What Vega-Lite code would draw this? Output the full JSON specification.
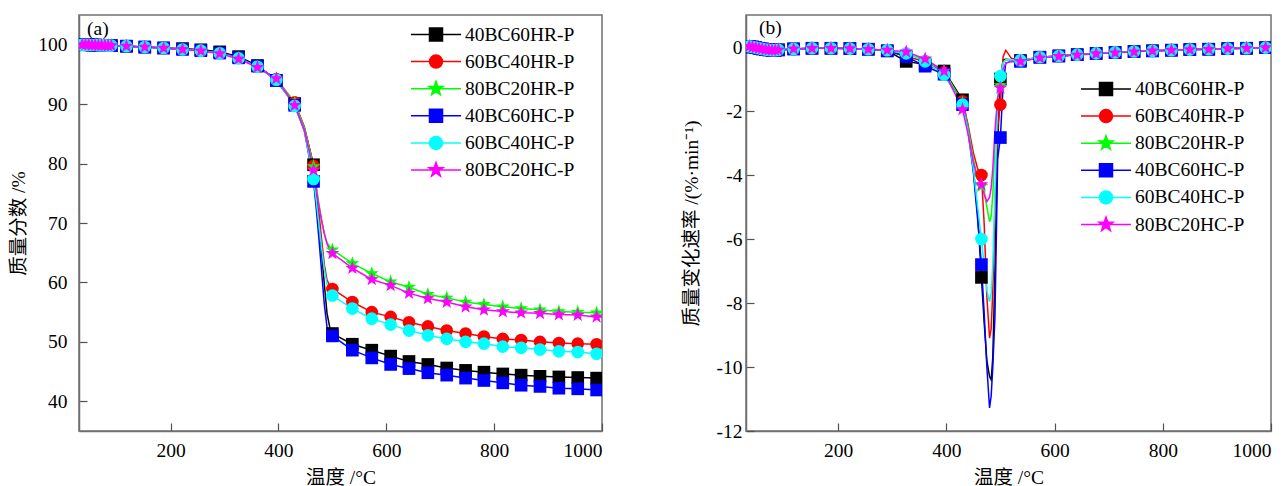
{
  "$schema": "https://vega.github.io/schema/vega-lite/v6.json",
  "background": "white",
  "padding": {"left": 8, "top": 14, "right": 10, "bottom": 4},
  "spacing": 144,
  "bounds": "flush",
  "resolve": {"scale": {"color": "independent"}, "legend": {"color": "independent"}},
  "config": {
    "font": "Liberation Serif, Noto Sans CJK SC",
    "view": {"stroke": "#707070", "strokeWidth": 1.5},
    "axis": {"grid": false, "domainColor": "#707070", "domainWidth": 1.5, "tickColor": "#505050", "tickWidth": 1.2, "tickSize": -8, "labelFont": "Liberation Serif", "labelFontSize": 19.5, "labelColor": "#000000", "titleFont": "Liberation Serif, Noto Sans CJK SC", "titleFontSize": 19.5, "titleFontWeight": "normal", "titleColor": "#000000"},
    "legend": {"labelFont": "Liberation Serif", "labelFontSize": 19.5, "labelColor": "#000000"}
  },
  "datasets": {
    "tg": [
      {"T":30,"m":0,"40BC60HR-P":100.05,"60BC40HR-P":100.05,"80BC20HR-P":100.05,"40BC60HC-P":100.05,"60BC40HC-P":100.05,"80BC20HC-P":100.05},
      {"T":36,"m":1,"40BC60HR-P":100.0,"60BC40HR-P":100.0,"80BC20HR-P":100.0,"40BC60HC-P":100.0,"60BC40HC-P":100.0,"80BC20HC-P":100.0},
      {"T":42,"m":1,"40BC60HR-P":100.0,"60BC40HR-P":100.0,"80BC20HR-P":100.0,"40BC60HC-P":100.0,"60BC40HC-P":100.0,"80BC20HC-P":100.0},
      {"T":48,"m":1,"40BC60HR-P":100.0,"60BC40HR-P":100.0,"80BC20HR-P":100.0,"40BC60HC-P":100.0,"60BC40HC-P":100.0,"80BC20HC-P":100.0},
      {"T":54,"m":1,"40BC60HR-P":99.95,"60BC40HR-P":99.95,"80BC20HR-P":99.95,"40BC60HC-P":99.95,"60BC40HC-P":99.95,"80BC20HC-P":99.95},
      {"T":60,"m":1,"40BC60HR-P":99.95,"60BC40HR-P":99.95,"80BC20HR-P":99.95,"40BC60HC-P":99.95,"60BC40HC-P":99.95,"80BC20HC-P":99.95},
      {"T":66,"m":1,"40BC60HR-P":99.9,"60BC40HR-P":99.9,"80BC20HR-P":99.9,"40BC60HC-P":99.9,"60BC40HC-P":99.9,"80BC20HC-P":99.9},
      {"T":72,"m":1,"40BC60HR-P":99.9,"60BC40HR-P":99.9,"80BC20HR-P":99.9,"40BC60HC-P":99.9,"60BC40HC-P":99.9,"80BC20HC-P":99.9},
      {"T":78,"m":1,"40BC60HR-P":99.9,"60BC40HR-P":99.9,"80BC20HR-P":99.9,"40BC60HC-P":99.9,"60BC40HC-P":99.9,"80BC20HC-P":99.9},
      {"T":84,"m":1,"40BC60HR-P":99.85,"60BC40HR-P":99.85,"80BC20HR-P":99.85,"40BC60HC-P":99.85,"60BC40HC-P":99.85,"80BC20HC-P":99.85},
      {"T":90,"m":1,"40BC60HR-P":99.85,"60BC40HR-P":99.85,"80BC20HR-P":99.85,"40BC60HC-P":99.85,"60BC40HC-P":99.85,"80BC20HC-P":99.85},
      {"T":118,"m":1,"40BC60HR-P":99.75,"60BC40HR-P":99.75,"80BC20HR-P":99.75,"40BC60HC-P":99.75,"60BC40HC-P":99.75,"80BC20HC-P":99.75},
      {"T":152,"m":1,"40BC60HR-P":99.6,"60BC40HR-P":99.6,"80BC20HR-P":99.6,"40BC60HC-P":99.6,"60BC40HC-P":99.6,"80BC20HC-P":99.6},
      {"T":187,"m":1,"40BC60HR-P":99.45,"60BC40HR-P":99.45,"80BC20HR-P":99.45,"40BC60HC-P":99.45,"60BC40HC-P":99.45,"80BC20HC-P":99.45},
      {"T":222,"m":1,"40BC60HR-P":99.35,"60BC40HR-P":99.2,"80BC20HR-P":99.2,"40BC60HC-P":99.2,"60BC40HC-P":99.2,"80BC20HC-P":99.2},
      {"T":256,"m":1,"40BC60HR-P":99.15,"60BC40HR-P":99.0,"80BC20HR-P":99.0,"40BC60HC-P":99.0,"60BC40HC-P":99.0,"80BC20HC-P":98.95},
      {"T":291,"m":1,"40BC60HR-P":98.8,"60BC40HR-P":98.6,"80BC20HR-P":98.6,"40BC60HC-P":98.6,"60BC40HC-P":98.55,"80BC20HC-P":98.5},
      {"T":326,"m":1,"40BC60HR-P":98.0,"60BC40HR-P":97.8,"80BC20HR-P":97.8,"40BC60HC-P":97.8,"60BC40HC-P":97.7,"80BC20HC-P":97.6},
      {"T":361,"m":1,"40BC60HR-P":96.5,"60BC40HR-P":96.3,"80BC20HR-P":96.2,"40BC60HC-P":96.4,"60BC40HC-P":96.3,"80BC20HC-P":96.2},
      {"T":396,"m":1,"40BC60HR-P":94.0,"60BC40HR-P":94.2,"80BC20HR-P":94.3,"40BC60HC-P":94.0,"60BC40HC-P":94.1,"80BC20HC-P":94.3},
      {"T":430,"m":1,"40BC60HR-P":90.1,"60BC40HR-P":90.3,"80BC20HR-P":90.2,"40BC60HC-P":89.8,"60BC40HC-P":89.7,"80BC20HC-P":89.8},
      {"T":448,"m":0,"40BC60HR-P":86.0,"60BC40HR-P":86.2,"80BC20HR-P":86.0,"40BC60HC-P":85.5,"60BC40HC-P":85.6,"80BC20HC-P":85.6},
      {"T":465,"m":1,"40BC60HR-P":79.8,"60BC40HR-P":79.6,"80BC20HR-P":79.5,"40BC60HC-P":77.0,"60BC40HC-P":77.4,"80BC20HC-P":78.9},
      {"T":470,"m":0,"40BC60HR-P":75.5,"60BC40HR-P":76.0,"80BC20HR-P":76.3,"40BC60HC-P":72.5,"60BC40HC-P":73.8,"80BC20HC-P":75.7},
      {"T":475,"m":0,"40BC60HR-P":70.3,"60BC40HR-P":71.8,"80BC20HR-P":73.2,"40BC60HC-P":67.3,"60BC40HC-P":69.8,"80BC20HC-P":72.9},
      {"T":480,"m":0,"40BC60HR-P":65.0,"60BC40HR-P":67.2,"80BC20HR-P":70.5,"40BC60HC-P":61.8,"60BC40HC-P":65.8,"80BC20HC-P":70.4},
      {"T":485,"m":0,"40BC60HR-P":59.7,"60BC40HR-P":63.0,"80BC20HR-P":68.2,"40BC60HC-P":56.3,"60BC40HC-P":62.2,"80BC20HC-P":68.2},
      {"T":490,"m":0,"40BC60HR-P":54.8,"60BC40HR-P":60.4,"80BC20HR-P":66.7,"40BC60HC-P":52.5,"60BC40HC-P":59.7,"80BC20HC-P":66.5},
      {"T":495,"m":0,"40BC60HR-P":52.5,"60BC40HR-P":59.5,"80BC20HR-P":66.0,"40BC60HC-P":51.6,"60BC40HC-P":58.5,"80BC20HC-P":65.5},
      {"T":500,"m":1,"40BC60HR-P":51.4,"60BC40HR-P":58.9,"80BC20HR-P":65.5,"40BC60HC-P":51.0,"60BC40HC-P":57.8,"80BC20HC-P":64.9},
      {"T":537,"m":1,"40BC60HR-P":49.6,"60BC40HR-P":56.7,"80BC20HR-P":63.2,"40BC60HC-P":48.6,"60BC40HC-P":55.6,"80BC20HC-P":62.4},
      {"T":573,"m":1,"40BC60HR-P":48.6,"60BC40HR-P":55.0,"80BC20HR-P":61.5,"40BC60HC-P":47.3,"60BC40HC-P":53.9,"80BC20HC-P":60.5},
      {"T":608,"m":1,"40BC60HR-P":47.6,"60BC40HR-P":54.2,"80BC20HR-P":60.1,"40BC60HC-P":46.2,"60BC40HC-P":52.9,"80BC20HC-P":59.5},
      {"T":642,"m":1,"40BC60HR-P":46.7,"60BC40HR-P":53.3,"80BC20HR-P":59.2,"40BC60HC-P":45.5,"60BC40HC-P":51.9,"80BC20HC-P":58.2},
      {"T":677,"m":1,"40BC60HR-P":46.2,"60BC40HR-P":52.6,"80BC20HR-P":58.0,"40BC60HC-P":44.8,"60BC40HC-P":51.1,"80BC20HC-P":57.3},
      {"T":712,"m":1,"40BC60HR-P":45.6,"60BC40HR-P":51.9,"80BC20HR-P":57.4,"40BC60HC-P":44.4,"60BC40HC-P":50.5,"80BC20HC-P":56.7},
      {"T":747,"m":1,"40BC60HR-P":45.2,"60BC40HR-P":51.4,"80BC20HR-P":56.7,"40BC60HC-P":43.9,"60BC40HC-P":50.0,"80BC20HC-P":55.9},
      {"T":781,"m":1,"40BC60HR-P":44.9,"60BC40HR-P":50.9,"80BC20HR-P":56.3,"40BC60HC-P":43.5,"60BC40HC-P":49.7,"80BC20HC-P":55.4},
      {"T":816,"m":1,"40BC60HR-P":44.6,"60BC40HR-P":50.5,"80BC20HR-P":55.9,"40BC60HC-P":43.1,"60BC40HC-P":49.2,"80BC20HC-P":55.1},
      {"T":850,"m":1,"40BC60HR-P":44.4,"60BC40HR-P":50.3,"80BC20HR-P":55.6,"40BC60HC-P":42.7,"60BC40HC-P":49.0,"80BC20HC-P":54.9},
      {"T":885,"m":1,"40BC60HR-P":44.2,"60BC40HR-P":50.0,"80BC20HR-P":55.4,"40BC60HC-P":42.5,"60BC40HC-P":48.7,"80BC20HC-P":54.8},
      {"T":920,"m":1,"40BC60HR-P":44.1,"60BC40HR-P":49.8,"80BC20HR-P":55.1,"40BC60HC-P":42.2,"60BC40HC-P":48.4,"80BC20HC-P":54.6},
      {"T":955,"m":1,"40BC60HR-P":44.0,"60BC40HR-P":49.7,"80BC20HR-P":55.0,"40BC60HC-P":42.1,"60BC40HC-P":48.3,"80BC20HC-P":54.5},
      {"T":990,"m":1,"40BC60HR-P":43.9,"60BC40HR-P":49.6,"80BC20HR-P":54.9,"40BC60HC-P":41.9,"60BC40HC-P":48.0,"80BC20HC-P":54.2},
      {"T":1000,"m":0,"40BC60HR-P":43.9,"60BC40HR-P":49.6,"80BC20HR-P":54.9,"40BC60HC-P":41.9,"60BC40HC-P":48.0,"80BC20HC-P":54.2}
    ],
    "dtg": [
      {"T":30,"m":0,"40BC60HR-P":0.03,"60BC40HR-P":0.03,"80BC20HR-P":0.03,"40BC60HC-P":0.03,"60BC40HC-P":0.03,"80BC20HC-P":0.03},
      {"T":36,"m":1,"40BC60HR-P":0.02,"60BC40HR-P":0.02,"80BC20HR-P":0.02,"40BC60HC-P":0.02,"60BC40HC-P":0.02,"80BC20HC-P":0.02},
      {"T":42,"m":1,"40BC60HR-P":0.0,"60BC40HR-P":0.0,"80BC20HR-P":0.0,"40BC60HC-P":0.0,"60BC40HC-P":0.0,"80BC20HC-P":0.0},
      {"T":48,"m":1,"40BC60HR-P":-0.02,"60BC40HR-P":-0.02,"80BC20HR-P":-0.02,"40BC60HC-P":-0.02,"60BC40HC-P":-0.02,"80BC20HC-P":-0.02},
      {"T":54,"m":1,"40BC60HR-P":-0.04,"60BC40HR-P":-0.04,"80BC20HR-P":-0.04,"40BC60HC-P":-0.04,"60BC40HC-P":-0.04,"80BC20HC-P":-0.04},
      {"T":60,"m":1,"40BC60HR-P":-0.06,"60BC40HR-P":-0.06,"80BC20HR-P":-0.06,"40BC60HC-P":-0.06,"60BC40HC-P":-0.06,"80BC20HC-P":-0.06},
      {"T":66,"m":1,"40BC60HR-P":-0.08,"60BC40HR-P":-0.08,"80BC20HR-P":-0.08,"40BC60HC-P":-0.08,"60BC40HC-P":-0.08,"80BC20HC-P":-0.08},
      {"T":72,"m":1,"40BC60HR-P":-0.09,"60BC40HR-P":-0.09,"80BC20HR-P":-0.09,"40BC60HC-P":-0.09,"60BC40HC-P":-0.09,"80BC20HC-P":-0.09},
      {"T":78,"m":1,"40BC60HR-P":-0.1,"60BC40HR-P":-0.1,"80BC20HR-P":-0.1,"40BC60HC-P":-0.1,"60BC40HC-P":-0.1,"80BC20HC-P":-0.1},
      {"T":84,"m":1,"40BC60HR-P":-0.1,"60BC40HR-P":-0.1,"80BC20HR-P":-0.1,"40BC60HC-P":-0.1,"60BC40HC-P":-0.1,"80BC20HC-P":-0.1},
      {"T":90,"m":1,"40BC60HR-P":-0.09,"60BC40HR-P":-0.09,"80BC20HR-P":-0.09,"40BC60HC-P":-0.09,"60BC40HC-P":-0.09,"80BC20HC-P":-0.09},
      {"T":118,"m":1,"40BC60HR-P":-0.06,"60BC40HR-P":-0.06,"80BC20HR-P":-0.06,"40BC60HC-P":-0.06,"60BC40HC-P":-0.06,"80BC20HC-P":-0.06},
      {"T":152,"m":1,"40BC60HR-P":-0.04,"60BC40HR-P":-0.04,"80BC20HR-P":-0.04,"40BC60HC-P":-0.04,"60BC40HC-P":-0.04,"80BC20HC-P":-0.04},
      {"T":187,"m":1,"40BC60HR-P":-0.04,"60BC40HR-P":-0.04,"80BC20HR-P":-0.04,"40BC60HC-P":-0.04,"60BC40HC-P":-0.04,"80BC20HC-P":-0.04},
      {"T":222,"m":1,"40BC60HR-P":-0.05,"60BC40HR-P":-0.05,"80BC20HR-P":-0.05,"40BC60HC-P":-0.05,"60BC40HC-P":-0.05,"80BC20HC-P":-0.05},
      {"T":256,"m":1,"40BC60HR-P":-0.07,"60BC40HR-P":-0.07,"80BC20HR-P":-0.07,"40BC60HC-P":-0.07,"60BC40HC-P":-0.07,"80BC20HC-P":-0.07},
      {"T":291,"m":1,"40BC60HR-P":-0.12,"60BC40HR-P":-0.1,"80BC20HR-P":-0.1,"40BC60HC-P":-0.12,"60BC40HC-P":-0.1,"80BC20HC-P":-0.1},
      {"T":326,"m":1,"40BC60HR-P":-0.45,"60BC40HR-P":-0.3,"80BC20HR-P":-0.2,"40BC60HC-P":-0.3,"60BC40HC-P":-0.2,"80BC20HC-P":-0.15},
      {"T":361,"m":1,"40BC60HR-P":-0.55,"60BC40HR-P":-0.45,"80BC20HR-P":-0.4,"40BC60HC-P":-0.6,"60BC40HC-P":-0.45,"80BC20HC-P":-0.37},
      {"T":396,"m":1,"40BC60HR-P":-0.75,"60BC40HR-P":-0.8,"80BC20HR-P":-0.75,"40BC60HC-P":-0.85,"60BC40HC-P":-0.86,"80BC20HC-P":-0.75},
      {"T":430,"m":1,"40BC60HR-P":-1.65,"60BC40HR-P":-1.7,"80BC20HR-P":-1.75,"40BC60HC-P":-1.8,"60BC40HC-P":-1.8,"80BC20HC-P":-1.95},
      {"T":440,"m":0,"40BC60HR-P":-2.5,"60BC40HR-P":-2.4,"80BC20HR-P":-2.5,"40BC60HC-P":-2.6,"60BC40HC-P":-2.6,"80BC20HC-P":-2.7},
      {"T":450,"m":0,"40BC60HR-P":-3.8,"60BC40HR-P":-3.3,"80BC20HR-P":-3.5,"40BC60HC-P":-3.9,"60BC40HC-P":-3.8,"80BC20HC-P":-3.6},
      {"T":458,"m":0,"40BC60HR-P":-5.2,"60BC40HR-P":-3.8,"80BC20HR-P":-4.1,"40BC60HC-P":-5.4,"60BC40HC-P":-5.0,"80BC20HC-P":-4.1},
      {"T":465,"m":1,"40BC60HR-P":-7.2,"60BC40HR-P":-4.0,"80BC20HR-P":-4.35,"40BC60HC-P":-6.8,"60BC40HC-P":-6.0,"80BC20HC-P":-4.3},
      {"T":470,"m":0,"40BC60HR-P":-8.6,"60BC40HR-P":-5.5,"80BC20HR-P":-4.5,"40BC60HC-P":-8.3,"60BC40HC-P":-6.8,"80BC20HC-P":-4.6},
      {"T":475,"m":0,"40BC60HR-P":-9.8,"60BC40HR-P":-7.8,"80BC20HR-P":-5.0,"40BC60HC-P":-10.0,"60BC40HC-P":-7.6,"80BC20HC-P":-4.83},
      {"T":480,"m":0,"40BC60HR-P":-10.3,"60BC40HR-P":-9.1,"80BC20HR-P":-5.46,"40BC60HC-P":-11.28,"60BC40HC-P":-7.96,"80BC20HC-P":-4.7},
      {"T":483,"m":0,"40BC60HR-P":-10.4,"60BC40HR-P":-8.8,"80BC20HR-P":-5.3,"40BC60HC-P":-10.9,"60BC40HC-P":-7.7,"80BC20HC-P":-4.4},
      {"T":486,"m":0,"40BC60HR-P":-9.7,"60BC40HR-P":-7.6,"80BC20HR-P":-4.6,"40BC60HC-P":-10.0,"60BC40HC-P":-6.8,"80BC20HC-P":-3.8},
      {"T":490,"m":0,"40BC60HR-P":-7.0,"60BC40HR-P":-5.0,"80BC20HR-P":-3.0,"40BC60HC-P":-8.4,"60BC40HC-P":-4.5,"80BC20HC-P":-2.6},
      {"T":495,"m":0,"40BC60HR-P":-3.0,"60BC40HR-P":-2.5,"80BC20HR-P":-1.5,"40BC60HC-P":-3.5,"60BC40HC-P":-1.6,"80BC20HC-P":-1.6},
      {"T":500,"m":1,"40BC60HR-P":-1.0,"60BC40HR-P":-1.8,"80BC20HR-P":-1.2,"40BC60HC-P":-2.83,"60BC40HC-P":-0.91,"80BC20HC-P":-1.28},
      {"T":505,"m":0,"40BC60HR-P":-0.4,"60BC40HR-P":-0.3,"80BC20HR-P":-0.5,"40BC60HC-P":-1.2,"60BC40HC-P":-0.5,"80BC20HC-P":-0.7},
      {"T":510,"m":0,"40BC60HR-P":-0.38,"60BC40HR-P":-0.1,"80BC20HR-P":-0.4,"40BC60HC-P":-0.5,"60BC40HC-P":-0.4,"80BC20HC-P":-0.5},
      {"T":520,"m":0,"40BC60HR-P":-0.4,"60BC40HR-P":-0.35,"80BC20HR-P":-0.4,"40BC60HC-P":-0.45,"60BC40HC-P":-0.4,"80BC20HC-P":-0.45},
      {"T":537,"m":1,"40BC60HR-P":-0.42,"60BC40HR-P":-0.42,"80BC20HR-P":-0.42,"40BC60HC-P":-0.45,"60BC40HC-P":-0.42,"80BC20HC-P":-0.45},
      {"T":573,"m":1,"40BC60HR-P":-0.32,"60BC40HR-P":-0.32,"80BC20HR-P":-0.33,"40BC60HC-P":-0.32,"60BC40HC-P":-0.32,"80BC20HC-P":-0.34},
      {"T":608,"m":1,"40BC60HR-P":-0.28,"60BC40HR-P":-0.28,"80BC20HR-P":-0.28,"40BC60HC-P":-0.28,"60BC40HC-P":-0.28,"80BC20HC-P":-0.29},
      {"T":642,"m":1,"40BC60HR-P":-0.24,"60BC40HR-P":-0.24,"80BC20HR-P":-0.24,"40BC60HC-P":-0.24,"60BC40HC-P":-0.24,"80BC20HC-P":-0.25},
      {"T":677,"m":1,"40BC60HR-P":-0.2,"60BC40HR-P":-0.2,"80BC20HR-P":-0.2,"40BC60HC-P":-0.2,"60BC40HC-P":-0.2,"80BC20HC-P":-0.21},
      {"T":712,"m":1,"40BC60HR-P":-0.17,"60BC40HR-P":-0.17,"80BC20HR-P":-0.17,"40BC60HC-P":-0.17,"60BC40HC-P":-0.17,"80BC20HC-P":-0.18},
      {"T":747,"m":1,"40BC60HR-P":-0.14,"60BC40HR-P":-0.14,"80BC20HR-P":-0.14,"40BC60HC-P":-0.14,"60BC40HC-P":-0.14,"80BC20HC-P":-0.15},
      {"T":781,"m":1,"40BC60HR-P":-0.12,"60BC40HR-P":-0.12,"80BC20HR-P":-0.12,"40BC60HC-P":-0.12,"60BC40HC-P":-0.12,"80BC20HC-P":-0.12},
      {"T":816,"m":1,"40BC60HR-P":-0.1,"60BC40HR-P":-0.1,"80BC20HR-P":-0.1,"40BC60HC-P":-0.1,"60BC40HC-P":-0.1,"80BC20HC-P":-0.1},
      {"T":850,"m":1,"40BC60HR-P":-0.08,"60BC40HR-P":-0.08,"80BC20HR-P":-0.08,"40BC60HC-P":-0.08,"60BC40HC-P":-0.08,"80BC20HC-P":-0.08},
      {"T":885,"m":1,"40BC60HR-P":-0.07,"60BC40HR-P":-0.07,"80BC20HR-P":-0.07,"40BC60HC-P":-0.07,"60BC40HC-P":-0.07,"80BC20HC-P":-0.07},
      {"T":920,"m":1,"40BC60HR-P":-0.05,"60BC40HR-P":-0.05,"80BC20HR-P":-0.05,"40BC60HC-P":-0.05,"60BC40HC-P":-0.05,"80BC20HC-P":-0.05},
      {"T":955,"m":1,"40BC60HR-P":-0.04,"60BC40HR-P":-0.04,"80BC20HR-P":-0.04,"40BC60HC-P":-0.04,"60BC40HC-P":-0.04,"80BC20HC-P":-0.04},
      {"T":990,"m":1,"40BC60HR-P":-0.02,"60BC40HR-P":-0.02,"80BC20HR-P":-0.02,"40BC60HC-P":-0.02,"60BC40HC-P":-0.02,"80BC20HC-P":-0.02},
      {"T":1000,"m":0,"40BC60HR-P":-0.02,"60BC40HR-P":-0.02,"80BC20HR-P":-0.02,"40BC60HC-P":-0.02,"60BC40HC-P":-0.02,"80BC20HC-P":-0.02}
    ]
  },
  "hconcat": [
    {
      "width": 523,
      "height": 416,
      "layer": [
        {
          "data": {"name": "tg"},
          "transform": [{"fold": ["40BC60HR-P","60BC40HR-P","80BC20HR-P","40BC60HC-P","60BC40HC-P","80BC20HC-P"], "as": ["s","v"]}],
          "encoding": {
            "x": {"field": "T", "type": "quantitative", "scale": {"domain": [30, 1000], "nice": false, "zero": false}, "axis": {"values": [200,400,600,800,1000], "format": "d", "title": "温度 /°C", "labelPadding": 18, "titlePadding": 9}},
            "y": {"field": "v", "type": "quantitative", "scale": {"domain": [35, 105], "nice": false, "zero": false}, "axis": {"values": [40,50,60,70,80,90,100], "title": "质量分数 /%", "labelPadding": 20, "titlePadding": 9}},
            "color": {"field": "s", "type": "nominal", "sort": null,
              "scale": {"domain": ["40BC60HR-P","60BC40HR-P","80BC20HR-P","40BC60HC-P","60BC40HC-P","80BC20HC-P"], "range": ["#000000","#ff0000","#00ff00","#0000ff","#00ffff","#ff00ff"]},
              "legend": {"title": null, "orient": "none", "legendX": 331, "legendY": 8.5, "padding": 0, "symbolSize": 400, "labelOffset": 33, "rowPadding": 6.1,
                "encode": {"symbols": {"update": {
                  "shape": {"signal": "indexof(datum.value, '40') == 0 ? 'M-1,0H4M0.85,-0.65H2.15V0.65H0.85Z' : indexof(datum.value, '60') == 0 ? 'M-1,0H4M0.85,0A0.65,0.65 0 1,0 2.15,0A0.65,0.65 0 1,0 0.85,0Z' : 'M-1,0H4M1.5,-0.75L1.6763,-0.2427L2.2133,-0.2318L1.7853,0.0927L1.9408,0.6068L1.5,0.3L1.0592,0.6068L1.2147,0.0927L0.7867,-0.2318L1.3237,-0.2427Z'"},
                  "fill": {"signal": "datum.value == '40BC60HR-P' ? '#000000' : datum.value == '60BC40HR-P' ? '#ff0000' : datum.value == '80BC20HR-P' ? '#00ff00' : datum.value == '40BC60HC-P' ? '#0000ff' : datum.value == '60BC40HC-P' ? '#00ffff' : '#ff00ff'"},
                  "stroke": {"signal": "datum.value == '40BC60HR-P' ? '#000000' : datum.value == '60BC40HR-P' ? '#ff0000' : datum.value == '80BC20HR-P' ? '#00ff00' : datum.value == '40BC60HC-P' ? '#0000ff' : datum.value == '60BC40HC-P' ? '#00ffff' : '#ff00ff'"},
                  "strokeWidth": {"value": 1.5},
                  "opacity": {"value": 1}
                }}}
              }
            }
          },
          "layer": [
            {"mark": {"type": "line", "strokeWidth": 1.5, "clip": true}},
            {"transform": [{"filter": "datum.m == 1 && datum.s == '40BC60HR-P'"}], "mark": {"type": "point", "filled": true, "shape": "square", "size": 160, "opacity": 1, "clip": true}},
            {"transform": [{"filter": "datum.m == 1 && datum.s == '60BC40HR-P'"}], "mark": {"type": "point", "filled": true, "shape": "circle", "size": 160, "opacity": 1, "clip": true}},
            {"transform": [{"filter": "datum.m == 1 && datum.s == '80BC20HR-P'"}], "mark": {"type": "point", "filled": true, "shape": "M0,-1.15L0.2704,-0.3721L1.0938,-0.3554L0.4375,0.1421L0.676,0.9304L0,0.46L-0.676,0.9304L-0.4375,0.1421L-1.0938,-0.3554L-0.2704,-0.3721Z", "size": 160, "opacity": 1, "clip": true}},
            {"transform": [{"filter": "datum.m == 1 && datum.s == '40BC60HC-P'"}], "mark": {"type": "point", "filled": true, "shape": "square", "size": 160, "opacity": 1, "clip": true}},
            {"transform": [{"filter": "datum.m == 1 && datum.s == '60BC40HC-P'"}], "mark": {"type": "point", "filled": true, "shape": "circle", "size": 160, "opacity": 1, "clip": true}},
            {"transform": [{"filter": "datum.m == 1 && datum.s == '80BC20HC-P'"}], "mark": {"type": "point", "filled": true, "shape": "M0,-1.15L0.2704,-0.3721L1.0938,-0.3554L0.4375,0.1421L0.676,0.9304L0,0.46L-0.676,0.9304L-0.4375,0.1421L-1.0938,-0.3554L-0.2704,-0.3721Z", "size": 160, "opacity": 1, "clip": true}}
          ]
        },
        {
          "data": {"values": [{"label": "(a)"}]},
          "mark": {"type": "text", "align": "left", "baseline": "middle", "fontSize": 19.5, "font": "Liberation Serif", "color": "#000000"},
          "encoding": {"x": {"datum": 45}, "y": {"datum": 102.7}, "text": {"field": "label"}}
        }
      ]
    },
    {
      "width": 525,
      "height": 416,
      "layer": [
        {
          "data": {"name": "dtg"},
          "transform": [{"fold": ["40BC60HR-P","60BC40HR-P","80BC20HR-P","40BC60HC-P","60BC40HC-P","80BC20HC-P"], "as": ["s","v"]}],
          "encoding": {
            "x": {"field": "T", "type": "quantitative", "scale": {"domain": [30, 1000], "nice": false, "zero": false}, "axis": {"values": [200,400,600,800,1000], "format": "d", "title": "温度 /°C", "labelPadding": 18, "titlePadding": 9}},
            "y": {"field": "v", "type": "quantitative", "scale": {"domain": [-12, 1], "nice": false, "zero": false}, "axis": {"values": [-12,-10,-8,-6,-4,-2,0], "labelExpr": "'' + datum.value", "title": "质量变化速率 /(%·min⁻¹)", "labelPadding": 12, "titlePadding": 15}},
            "color": {"field": "s", "type": "nominal", "sort": null,
              "scale": {"domain": ["40BC60HR-P","60BC40HR-P","80BC20HR-P","40BC60HC-P","60BC40HC-P","80BC20HC-P"], "range": ["#000000","#ff0000","#00ff00","#0000ff","#00ffff","#ff00ff"]},
              "legend": {"title": null, "orient": "none", "legendX": 334, "legendY": 63, "padding": 0, "symbolSize": 400, "labelOffset": 33, "rowPadding": 6.1,
                "encode": {"symbols": {"update": {
                  "shape": {"signal": "indexof(datum.value, '40') == 0 ? 'M-1,0H4M0.85,-0.65H2.15V0.65H0.85Z' : indexof(datum.value, '60') == 0 ? 'M-1,0H4M0.85,0A0.65,0.65 0 1,0 2.15,0A0.65,0.65 0 1,0 0.85,0Z' : 'M-1,0H4M1.5,-0.75L1.6763,-0.2427L2.2133,-0.2318L1.7853,0.0927L1.9408,0.6068L1.5,0.3L1.0592,0.6068L1.2147,0.0927L0.7867,-0.2318L1.3237,-0.2427Z'"},
                  "fill": {"signal": "datum.value == '40BC60HR-P' ? '#000000' : datum.value == '60BC40HR-P' ? '#ff0000' : datum.value == '80BC20HR-P' ? '#00ff00' : datum.value == '40BC60HC-P' ? '#0000ff' : datum.value == '60BC40HC-P' ? '#00ffff' : '#ff00ff'"},
                  "stroke": {"signal": "datum.value == '40BC60HR-P' ? '#000000' : datum.value == '60BC40HR-P' ? '#ff0000' : datum.value == '80BC20HR-P' ? '#00ff00' : datum.value == '40BC60HC-P' ? '#0000ff' : datum.value == '60BC40HC-P' ? '#00ffff' : '#ff00ff'"},
                  "strokeWidth": {"value": 1.5},
                  "opacity": {"value": 1}
                }}}
              }
            }
          },
          "layer": [
            {"mark": {"type": "line", "strokeWidth": 1.5, "clip": true}},
            {"transform": [{"filter": "datum.m == 1 && datum.s == '40BC60HR-P'"}], "mark": {"type": "point", "filled": true, "shape": "square", "size": 160, "opacity": 1, "clip": true}},
            {"transform": [{"filter": "datum.m == 1 && datum.s == '60BC40HR-P'"}], "mark": {"type": "point", "filled": true, "shape": "circle", "size": 160, "opacity": 1, "clip": true}},
            {"transform": [{"filter": "datum.m == 1 && datum.s == '80BC20HR-P'"}], "mark": {"type": "point", "filled": true, "shape": "M0,-1.15L0.2704,-0.3721L1.0938,-0.3554L0.4375,0.1421L0.676,0.9304L0,0.46L-0.676,0.9304L-0.4375,0.1421L-1.0938,-0.3554L-0.2704,-0.3721Z", "size": 160, "opacity": 1, "clip": true}},
            {"transform": [{"filter": "datum.m == 1 && datum.s == '40BC60HC-P'"}], "mark": {"type": "point", "filled": true, "shape": "square", "size": 160, "opacity": 1, "clip": true}},
            {"transform": [{"filter": "datum.m == 1 && datum.s == '60BC40HC-P'"}], "mark": {"type": "point", "filled": true, "shape": "circle", "size": 160, "opacity": 1, "clip": true}},
            {"transform": [{"filter": "datum.m == 1 && datum.s == '80BC20HC-P'"}], "mark": {"type": "point", "filled": true, "shape": "M0,-1.15L0.2704,-0.3721L1.0938,-0.3554L0.4375,0.1421L0.676,0.9304L0,0.46L-0.676,0.9304L-0.4375,0.1421L-1.0938,-0.3554L-0.2704,-0.3721Z", "size": 160, "opacity": 1, "clip": true}}
          ]
        },
        {
          "data": {"values": [{"label": "(b)"}]},
          "mark": {"type": "text", "align": "left", "baseline": "middle", "fontSize": 19.5, "font": "Liberation Serif", "color": "#000000"},
          "encoding": {"x": {"datum": 54}, "y": {"datum": 0.59}, "text": {"field": "label"}}
        }
      ]
    }
  ]
}
